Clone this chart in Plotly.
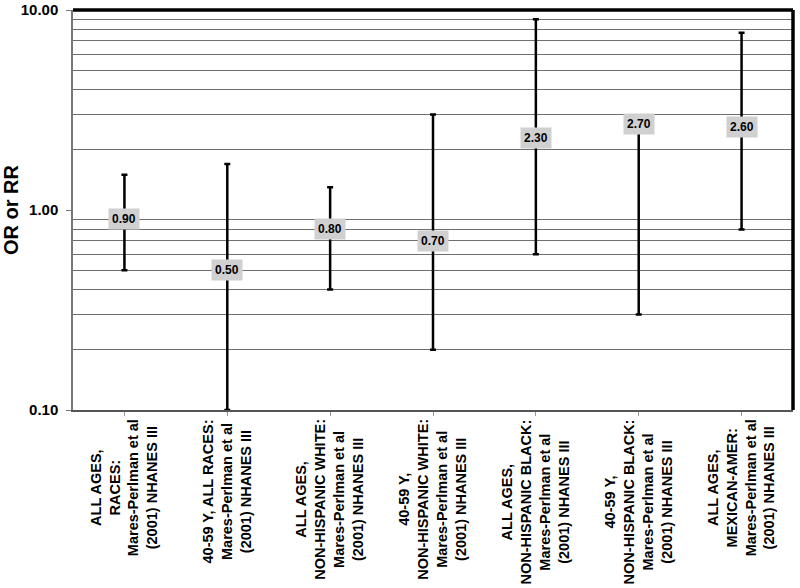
import numpy as np
import plotly.graph_objects as go

categories = [
    "ALL AGES,<br>RACES:<br>Mares-Perlman et al<br>(2001) NHANES III",
    "40-59 Y, ALL RACES:<br>Mares-Perlman et al<br>(2001) NHANES III",
    "ALL AGES,<br>NON-HISPANIC WHITE:<br>Mares-Perlman et al<br>(2001) NHANES III",
    "40-59 Y,<br>NON-HISPANIC WHITE:<br>Mares-Perlman et al<br>(2001) NHANES III",
    "ALL AGES,<br>NON-HISPANIC BLACK:<br>Mares-Perlman et al<br>(2001) NHANES III",
    "40-59 Y,<br>NON-HISPANIC BLACK:<br>Mares-Perlman et al<br>(2001) NHANES III",
    "ALL AGES,<br>MEXICAN-AMER:<br>Mares-Perlman et al<br>(2001) NHANES III",
]
estimate = [0.90, 0.50, 0.80, 0.70, 2.30, 2.70, 2.60]
lower = [0.5, 0.1, 0.4, 0.2, 0.6, 0.3, 0.8]
upper = [1.5, 1.7, 1.3, 3.0, 9.0, 2.7, 7.7]
y_tickvals = [0.1, 1, 10]
y_ticktext = ["0.10", "1.00", "10.00"]
minor_grid = [0.2, 0.3, 0.4, 0.5, 0.6, 0.7, 0.8, 0.9, 2, 3, 4, 5, 6, 7, 8, 9]

xs = list(range(len(categories)))
err_plus = [u - e for u, e in zip(upper, estimate)]
err_minus = [e - l for e, l in zip(estimate, lower)]

fig = go.Figure()
fig.add_trace(go.Scatter(
    x=xs, y=estimate, mode="markers",
    marker=dict(size=1, color="rgba(0,0,0,0)"),
    error_y=dict(type="data", symmetric=False, array=err_plus, arrayminus=err_minus,
                 color="black", thickness=2.5, width=3),
    showlegend=False, hoverinfo="skip",
))

annotations = []
for x, e in zip(xs, estimate):
    annotations.append(dict(
        x=x, y=np.log10(e), xref="x", yref="y", text=f"<b>{e:.2f}</b>",
        showarrow=False, bgcolor="#d0d0d0", borderpad=3,
        font=dict(family="Liberation Sans, Arial", size=12, color="black"),
    ))
for x, c in zip(xs, categories):
    annotations.append(dict(
        x=x, y=-0.018, xref="x", yref="paper", text=f"<b>{c}</b>",
        textangle=-90, showarrow=False, xanchor="center", yanchor="top", align="center",
        font=dict(family="Liberation Sans, Arial", size=14.5, color="black"),
    ))

shapes = [
    dict(type="line", xref="paper", yref="y", x0=0, x1=1, y0=0, y1=0,
         line=dict(color="black", width=3.5)),
    dict(type="line", xref="paper", yref="paper", x0=0, x1=1, y0=1, y1=1,
         line=dict(color="black", width=3.5)),
    dict(type="line", xref="paper", yref="paper", x0=1, x1=1, y0=0, y1=1,
         line=dict(color="black", width=3.5)),
]

fig.update_layout(
    width=800, height=588,
    margin=dict(l=73, r=7, t=10, b=178),
    paper_bgcolor="white", plot_bgcolor="white",
    font=dict(family="Liberation Sans, Arial", color="black"),
    annotations=annotations, shapes=shapes,
    xaxis=dict(
        range=[-0.5, len(categories) - 0.5], tickmode="array", tickvals=xs,
        showticklabels=False, showgrid=False, zeroline=False, automargin=False,
        showline=True, linecolor="#555555", linewidth=2,
        ticks="outside", tickson="boundaries", ticklen=4, tickcolor="#999999",
    ),
    yaxis=dict(
        type="log", range=[-1, 1], tickmode="array", tickvals=y_tickvals,
        ticktext=[f"<b>{t}</b>" for t in y_ticktext],
        tickfont=dict(size=15, color="black"), ticklabelstandoff=5,
        showgrid=False, zeroline=False, automargin=False,
        showline=True, linecolor="#777777", linewidth=1.5,
        ticks="outside", ticklen=5, tickcolor="#777777",
        minor=dict(tickmode="array", tickvals=minor_grid, showgrid=True,
                   gridcolor="#6f6f6f", gridwidth=1, ticks=""),
        title=dict(text="<b>OR or RR</b>", font=dict(size=20, color="black"), standoff=1),
    ),
)

fig.write_html("out.html", config={"displayModeBar": False},
               post_script="document.body.style.margin='0';document.body.style.overflow='hidden';")
